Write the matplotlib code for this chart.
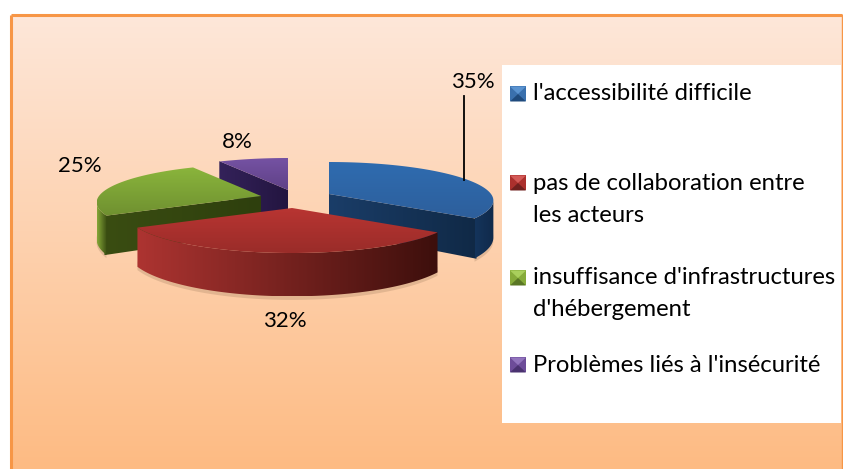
import numpy as np
import matplotlib
matplotlib.use("Agg")
import matplotlib.pyplot as plt
from matplotlib.patches import Polygon, Rectangle
from matplotlib.colors import LinearSegmentedColormap as LSC

categories = ["l'accessibilité difficile", "pas de collaboration entre\nles acteurs",
              "insuffisance d'infrastructures\nd'hébergement", "Problèmes liés à l'insécurité"]
values = [35, 32, 25, 8]
value_labels = ["35%", "32%", "25%", "8%"]

FONT = "Lato"
FS = 16
LFS = 17.2
W, H = 843, 469
apexes = [(329, 194), (292, 208), (261, 196), (288, 190)]
top_cols = [("#2f6cb0", "#2d5f9c"), ("#b93532", "#9a2c29"), ("#8ab53c", "#6f9030"), ("#7552a3", "#5f4187")]
side_cols = [("#14345c", "#102a4a"), ("#ad3431", "#3d0f0c"), ("#86a838", "#3a4d12"), ("#2e1d4e", "#2a1a44")]
cut_cols = [("#1a3d68", "#102946"), None, ("#3a4d12", "#2e3f0d"), ("#34225a", "#231540")]
leg_cols = [("#5a93d0", "#3a70ad", "#1f4a7c"), ("#d35a57", "#ab302d", "#70201e"),
            ("#a9cf5c", "#86ab3a", "#5a7725"), ("#9274bd", "#6d4c99", "#4a3270")]
label_pos = [(473, 82), (285, 321), (80, 166), (237, 142)]
leg_y = [94, 183, 278, 365]
A, B, K, T = 162, 37.4, 0.169, 36
SIL = np.degrees(np.arccos(-K))  # angle of the right-most silhouette point

fig = plt.figure(figsize=(W / 100, H / 100), dpi=100, facecolor="white")
ax = fig.add_axes([0, 0, 1, 1])
ax.set_xlim(0, W); ax.set_ylim(H, 0); ax.axis("off")


def grad(poly, c0, c1, vertical=False, z=2):
    poly = np.asarray(poly)
    x0, y0 = poly.min(0); x1, y1 = poly.max(0)
    g = np.linspace(0, 1, 128)
    g = g[:, None] if vertical else g[None, :]
    im = ax.imshow(g, cmap=LSC.from_list("g", [c0, c1]), extent=(x0, x1, y1, y0), origin="upper",
                   aspect="auto", zorder=z, interpolation="bilinear")
    p = Polygon(poly, closed=True, fc="none", ec="none", transform=ax.transData)
    ax.add_patch(p)
    im.set_clip_path(p)
    return im


def pt(c, th, r=1.0, down=0.0):
    th = np.radians(th)
    v = -np.cos(th) * r
    s = 1 / (1 - K * v)
    return np.array([c[0] + A * r * np.sin(th) * s, c[1] + B * v * s + down * s])


def rim(c, a0, a1, down=0.0):
    n = max(int(abs(a1 - a0)) * 2, 2)
    return np.array([pt(c, a, 1.0, down) for a in np.linspace(a0, a1, n)])


# background + frame
grad([(11, 15), (842, 15), (842, 469), (11, 469)], "#fee7d9", "#fdbb83", vertical=True, z=0)
ax.plot([11, 11], [469, 15], color="#f79646", lw=2.2, zorder=1, solid_capstyle="butt")
ax.plot([11, 842], [15, 15], color="#f79646", lw=2.2, zorder=1, solid_capstyle="butt")
ax.plot([841.5, 841.5], [15, 469], color="#f79646", lw=1, zorder=1)
ax.add_patch(Rectangle((502, 65), 339, 358, fc="white", ec="none", zorder=1))

# pie
angles = np.concatenate([[0], np.cumsum(values) / np.sum(values) * 360])
z = 2
for i in [3, 2, 0, 1]:
    c, a0, a1 = apexes[i], angles[i], angles[i + 1]
    s0, s1 = max(a0, SIL), min(a1, 360 - SIL)
    # soft shadow
    if s1 > s0:
        low = rim(c, s0, s1, T + 3)
        ax.add_patch(Polygon(np.vstack([rim(c, s0, s1, T - 5), low[::-1]]), fc="#7a5a40", alpha=0.2, ec="none", zorder=z))
    z += 1
    if cut_cols[i] is not None:
        a = a1 if a1 < 180 else a0
        apx = np.array(c, float)
        poly = [apx, pt(c, a, 1.012), pt(c, a, 1.012, T), apx + [0, T]]
        grad(poly, cut_cols[i][0], cut_cols[i][1], z=z); z += 1
    if s1 > s0:
        poly = np.vstack([rim(c, s0, s1), rim(c, s0, s1, T)[::-1]])
        c0, c1 = side_cols[i]
        grad(poly, c0, c1, z=z); z += 1
    top = np.vstack([[c], rim(c, a0, a1)])
    grad(top, top_cols[i][0], top_cols[i][1], vertical=True, z=z); z += 1

# labels
for lab, (x, y) in zip(value_labels, label_pos):
    ax.text(x, y, lab, family=FONT, fontsize=FS, color="black", ha="center", va="center", zorder=50)
ax.plot([464, 464], [96, 180], color="black", lw=1.3, zorder=40)

# legend
for cat, y, cols in zip(categories, leg_y, leg_cols):
    x0, x1, y0, y1 = 510, 526, y - 7.5, y + 7.5
    mx, my = (x0 + x1) / 2, (y0 + y1) / 2
    ax.add_patch(Polygon([(x0, y0), (x1, y0), (x1, y1), (x0, y1)], fc=cols[1], ec="none", zorder=30))
    ax.add_patch(Polygon([(x0, y0), (x1, y0), (mx, my)], fc=cols[0], ec="none", zorder=31))
    ax.add_patch(Polygon([(x0, y1), (x1, y1), (mx, my)], fc=cols[2], ec="none", zorder=31))
    for j, line in enumerate(cat.split("\n")):
        ax.text(533, y + j * 32, line, family=FONT, fontsize=LFS, color="black", ha="left", va="center", zorder=50)

ax.set_xlim(0, W); ax.set_ylim(H, 0)
fig.savefig("out.png", dpi=100, facecolor="white")
